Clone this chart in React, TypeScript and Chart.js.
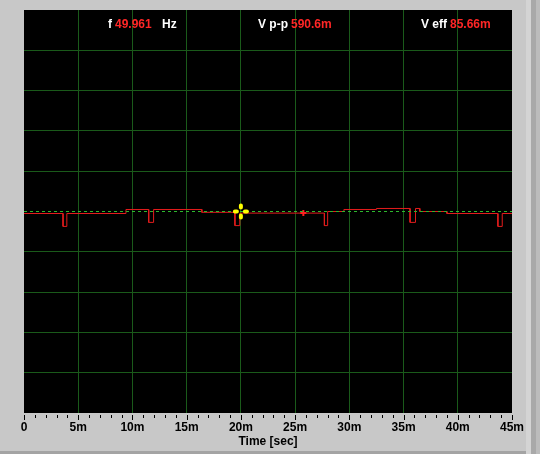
import React, { useEffect, useRef } from 'react';
import { Chart, registerables } from 'chart.js';

Chart.register(...registerables);

// Signal trace (time in ms, voltage in divisions-scale units)
const traceTime = [
  0, 3.6, 3.6, 3.95, 3.95, 9.4, 9.4, 11.5, 11.5, 11.95, 11.95, 16.4, 16.4,
  19.45, 19.45, 19.9, 19.9, 27.7, 27.7, 28.0, 28.0, 29.5, 29.5, 32.5, 32.5,
  35.6, 35.6, 36.1, 36.1, 36.5, 36.5, 39.0, 39.0, 43.7, 43.7, 44.1, 44.1, 45,
];
const traceValue = [
  -0.05, -0.05, -0.37, -0.37, -0.05, -0.05, 0.05, 0.05, -0.27, -0.27, 0.05, 0.05, -0.02,
  -0.02, -0.35, -0.35, -0.04, -0.04, -0.35, -0.35, 0.0, 0.0, 0.05, 0.05, 0.075,
  0.075, -0.27, -0.27, 0.075, 0.075, 0.0, 0.0, -0.05, -0.05, -0.37, -0.37, -0.05, -0.05,
];

// Reference (zero) line
const zeroTime = [0, 45];
const zeroValue = [0, 0];

// Red marker and yellow cursor
const markerTime = [25.76];
const markerValue = [-0.04];
const cursorTime = [20.0];
const cursorValue = [0];

// Axis
const xMin = 0;
const xMax = 45;
const xTickLabels = ['0', '5m', '10m', '15m', '20m', '25m', '30m', '35m', '40m', '45m'];
const xTitle = 'Time [sec]';
const yMin = -5;
const yMax = 5;

// Readouts
const readoutNames = ['f', 'V p-p', 'V eff'];
const readoutValues = ['49.961', '590.6m', '85.66m'];
const readoutUnits = ['Hz', '', ''];

const FONT = '"Liberation Sans", Arial, sans-serif';

export default function App() {
  const ref = useRef<HTMLCanvasElement>(null);

  useEffect(() => {
    document.body.style.margin = '0';
    const canvas = ref.current!;

    const bgPlugin = {
      id: 'panelBg',
      beforeDraw(chart: any) {
        const { ctx, width, height, chartArea: a } = chart;
        ctx.save();
        ctx.fillStyle = '#c8c8c8';
        ctx.fillRect(0, 0, width, height);
        ctx.fillStyle = '#d4d4d4';
        ctx.fillRect(526, 0, 5, height);
        ctx.fillStyle = '#a9a9a9';
        ctx.fillRect(531, 0, 5, height);
        ctx.fillStyle = '#bcbcbc';
        ctx.fillRect(536, 0, 4, height);
        ctx.fillStyle = '#a4a4a4';
        ctx.fillRect(0, 451, 526, 3);
        ctx.fillStyle = '#000000';
        ctx.fillRect(a.left, a.top, a.right - a.left, a.bottom - a.top);
        ctx.restore();
      },
    };

    const overlayPlugin = {
      id: 'overlay',
      afterDatasetsDraw(chart: any) {
        const { ctx } = chart;
        const xs = chart.scales.x;
        const ys = chart.scales.y;
        ctx.save();
        ctx.strokeStyle = '#ffff00';
        ctx.lineWidth = 4;
        ctx.lineCap = 'round';
        for (let i = 0; i < cursorTime.length; i++) {
          const cx = xs.getPixelForValue(cursorTime[i]);
          const cy = ys.getPixelForValue(cursorValue[i]);
          const dirs = [[1, 0], [-1, 0], [0, 1], [0, -1]];
          ctx.beginPath();
          for (const [dx, dy] of dirs) {
            ctx.moveTo(cx + dx * 4, cy + dy * 4);
            ctx.lineTo(cx + dx * 6, cy + dy * 6);
          }
          ctx.stroke();
        }
        ctx.restore();
      },
      afterDraw(chart: any) {
        const { ctx, chartArea: a } = chart;
        const xs = chart.scales.x;
        ctx.save();
        // tick marks
        ctx.strokeStyle = '#000000';
        ctx.lineWidth = 1;
        ctx.beginPath();
        xs.ticks.forEach((t: any) => {
          const x = Math.round(xs.getPixelForValue(t.value)) + 0.5;
          const major = t.value % 5 === 0;
          ctx.moveTo(x, a.bottom + 2);
          ctx.lineTo(x, a.bottom + (major ? 7 : 5));
        });
        ctx.stroke();
        // readouts
        ctx.font = 'bold 12px ' + FONT;
        ctx.textBaseline = 'alphabetic';
        const valueX = [115, 291, 450];
        const unitX = [162, 0, 0];
        const baseY = 28;
        for (let i = 0; i < readoutNames.length; i++) {
          ctx.textAlign = 'right';
          ctx.fillStyle = '#ffffff';
          ctx.fillText(readoutNames[i], valueX[i] - 3, baseY);
          ctx.textAlign = 'left';
          ctx.fillStyle = '#ff2626';
          ctx.fillText(readoutValues[i], valueX[i], baseY);
          if (readoutUnits[i]) {
            ctx.fillStyle = '#ffffff';
            ctx.fillText(readoutUnits[i], unitX[i], baseY);
          }
        }
        ctx.restore();
      },
    };

    const gridGreen = '#1a5a1a';

    const chart = new Chart(canvas, {
      type: 'line',
      data: {
        datasets: [
          {
            data: zeroTime.map((t, i) => ({ x: t, y: zeroValue[i] })),
            borderColor: '#2cb82c',
            borderWidth: 1,
            borderDash: [3, 3],
            pointRadius: 0,
            tension: 0,
          },
          {
            data: markerTime.map((t, i) => ({ x: t, y: markerValue[i] })),
            showLine: false,
            pointStyle: 'cross',
            pointRadius: 3,
            borderColor: '#ff2020',
            borderWidth: 2,
          },
          {
            data: traceTime.map((t, i) => ({ x: t, y: traceValue[i] })),
            borderColor: '#e31c1c',
            borderWidth: 1,
            pointRadius: 0,
            tension: 0,
          },
        ],
      },
      options: {
        responsive: false,
        animation: false,
        events: [],
        layout: { padding: { left: 24, right: 28, top: 10, bottom: 0 } },
        plugins: { legend: { display: false }, tooltip: { enabled: false } },
        scales: {
          x: {
            type: 'linear',
            min: xMin,
            max: xMax,
            border: { display: false },
            grid: {
              drawTicks: false,
              color: (c: any) => {
                const v = c.tick?.value;
                return v % 5 === 0 && v !== xMin && v !== xMax ? gridGreen : 'rgba(0,0,0,0)';
              },
            },
            ticks: {
              stepSize: 1,
              autoSkip: false,
              maxRotation: 0,
              padding: 7,
              color: '#000000',
              font: { family: FONT, size: 12, weight: 'bold' },
              callback: (v: any) => (v % 5 === 0 ? xTickLabels[v / 5] : ''),
            },
            title: {
              display: true,
              text: xTitle,
              color: '#000000',
              font: { family: FONT, size: 12, weight: 'bold' },
              padding: { top: 0, bottom: 5 },
            },
            afterFit: (s: any) => {
              s.height = 41;
            },
          },
          y: {
            type: 'linear',
            min: yMin,
            max: yMax,
            border: { display: false },
            grid: {
              drawTicks: false,
              color: (c: any) => {
                const v = c.tick?.value;
                return v === yMin || v === yMax || v === 0 ? 'rgba(0,0,0,0)' : gridGreen;
              },
            },
            ticks: { display: false, stepSize: 1 },
            afterFit: (s: any) => {
              s.width = 0;
            },
          },
        },
      },
      plugins: [bgPlugin, overlayPlugin],
    });

    return () => chart.destroy();
  }, []);

  return <canvas ref={ref} width={540} height={454} style={{ display: 'block' }} />;
}
